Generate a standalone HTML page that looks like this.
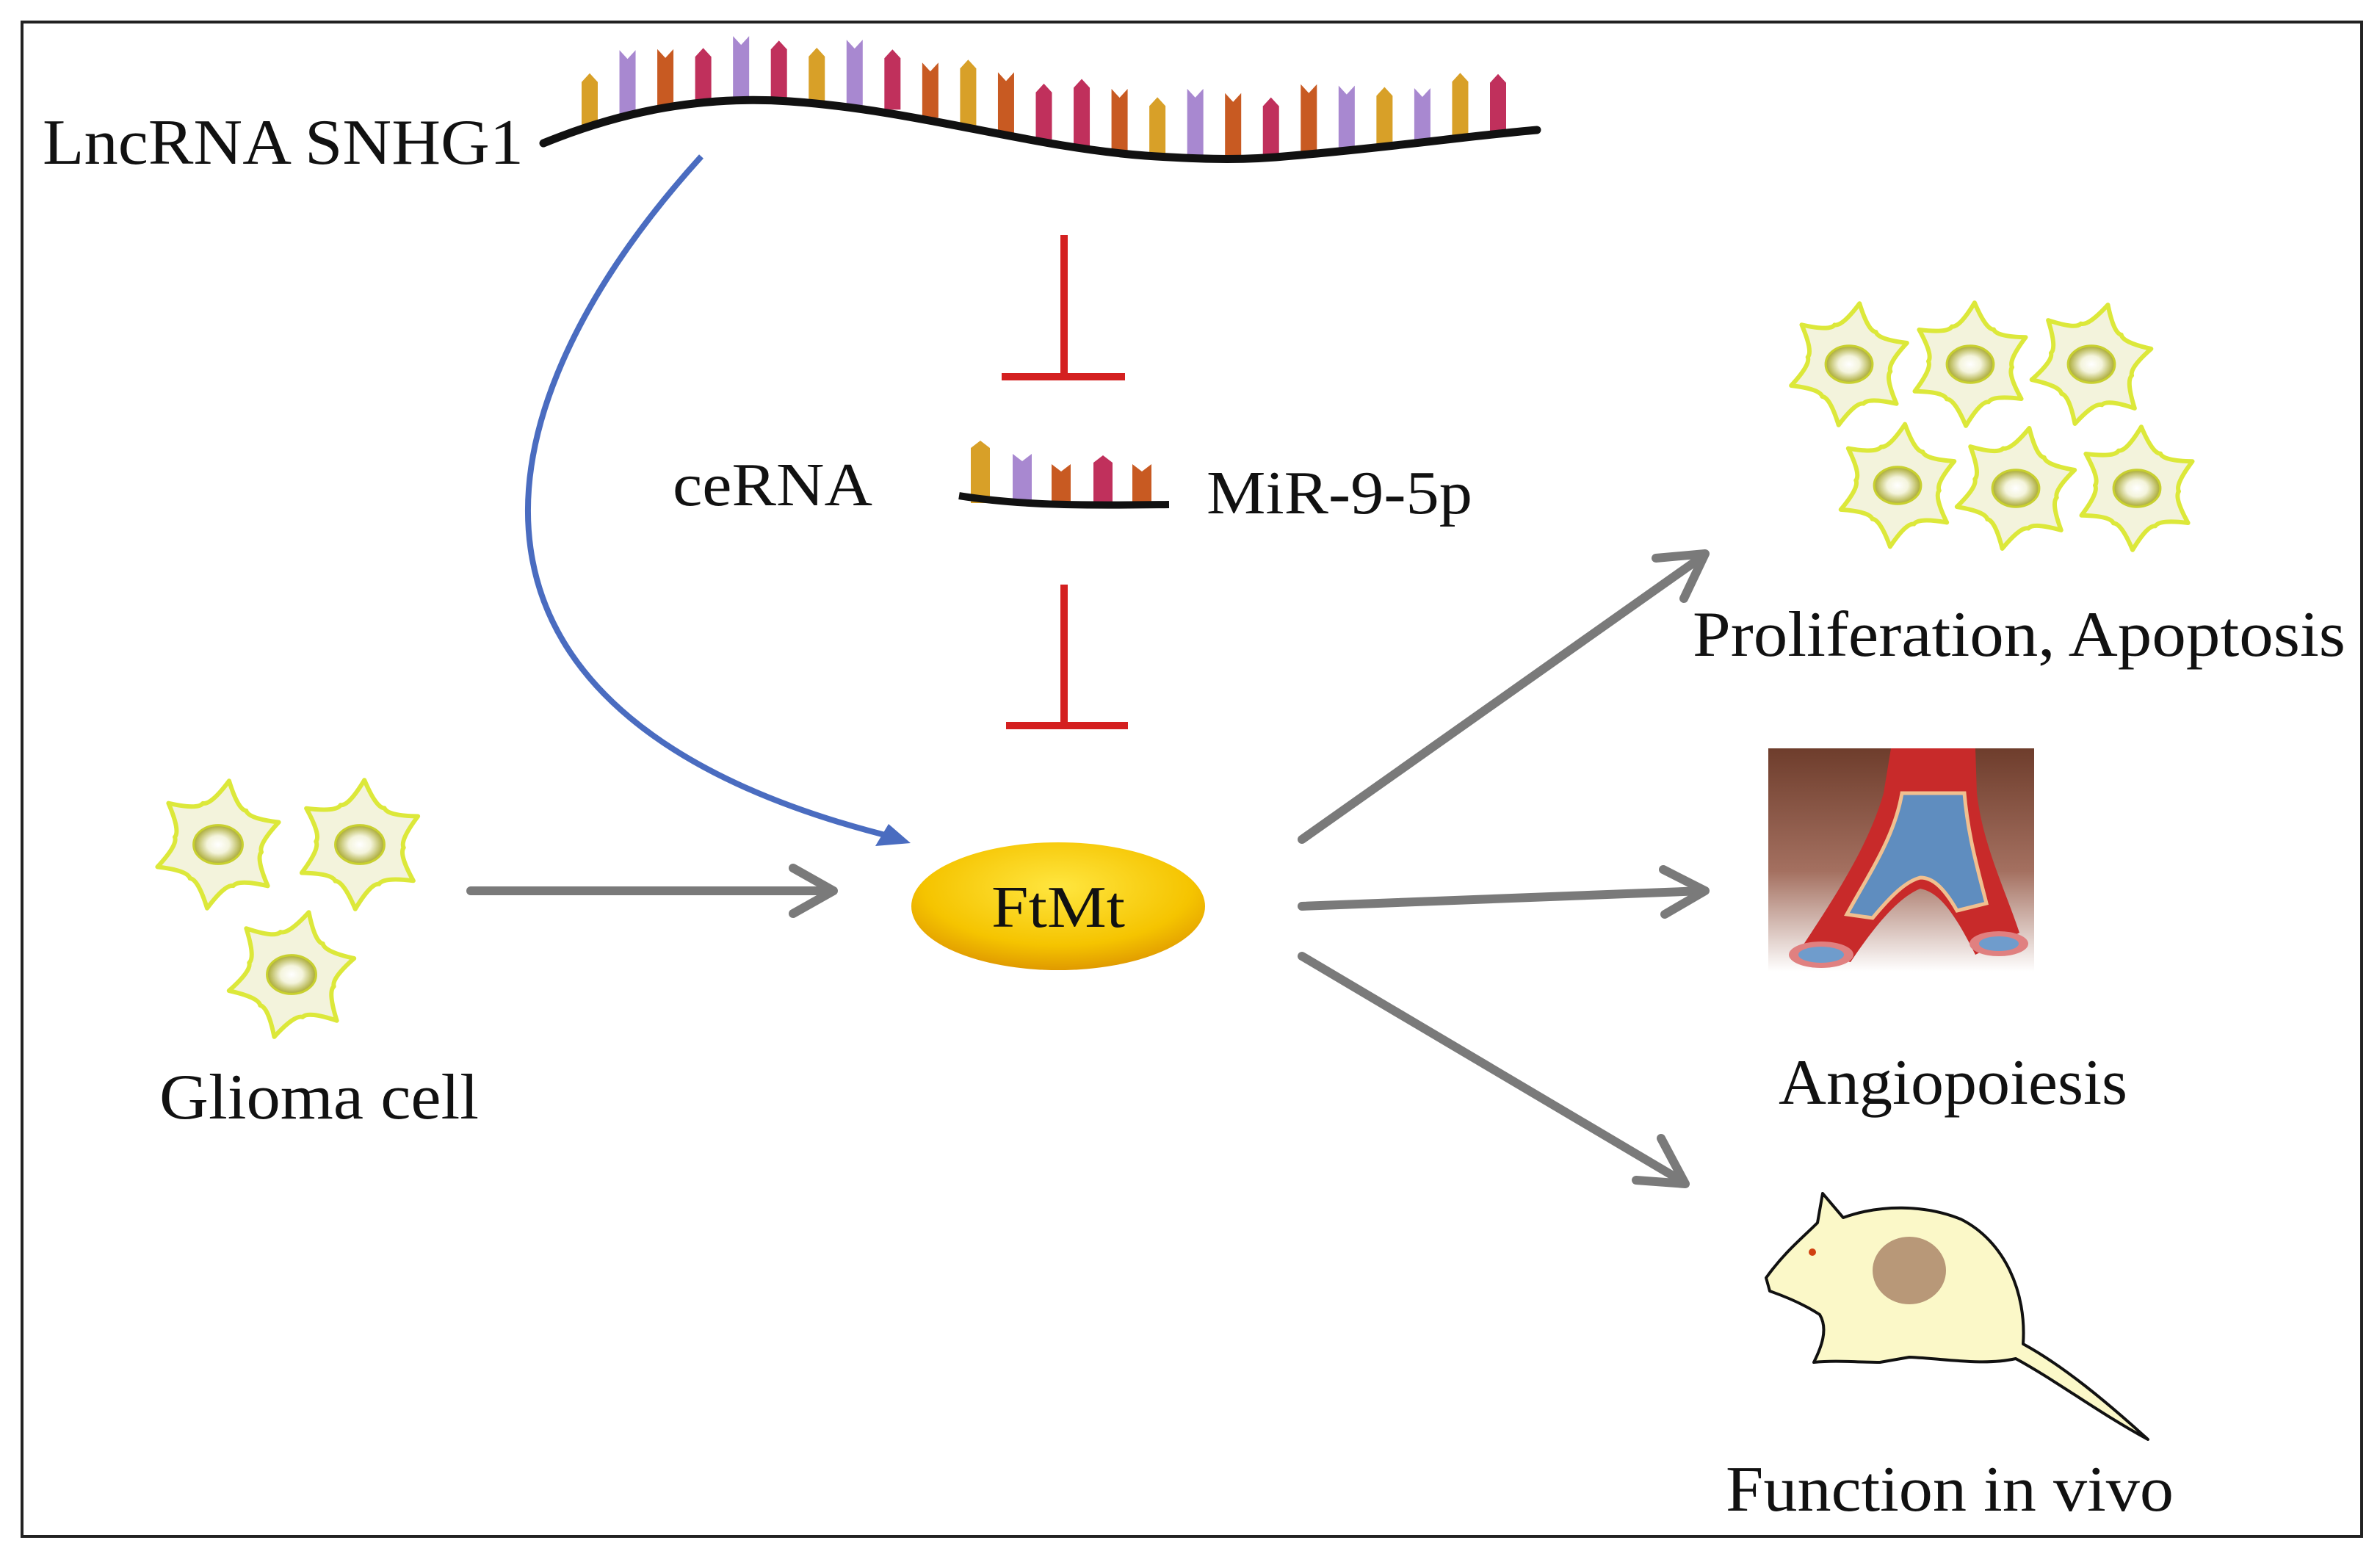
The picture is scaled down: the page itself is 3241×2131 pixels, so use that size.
<!DOCTYPE html>
<html><head><meta charset="utf-8">
<style>
html,body{margin:0;padding:0;background:#fff;}
svg{display:block;}
text{font-family:"Liberation Serif",serif;fill:#111;}
</style></head>
<body>
<svg id="s" width="3241" height="2131" viewBox="0 0 3241 2131" xmlns="http://www.w3.org/2000/svg">
<defs>
<radialGradient id="nuc" cx="50%" cy="50%" r="50%">
<stop offset="0" stop-color="#ffffff"/><stop offset="0.45" stop-color="#f4f4dc"/><stop offset="1" stop-color="#a8a830"/>
</radialGradient>
<radialGradient id="ft" cx="50%" cy="35%" r="65%">
<stop offset="0" stop-color="#ffe640"/><stop offset="0.7" stop-color="#f5c400"/><stop offset="1" stop-color="#e09a00"/>
</radialGradient>
<linearGradient id="bg" x1="0" y1="0" x2="0" y2="1">
<stop offset="0" stop-color="#6e3d2c"/><stop offset="0.55" stop-color="#a47060"/><stop offset="1" stop-color="#ffffff"/>
</linearGradient>
</defs>
<rect x="0" y="0" width="3241" height="2131" fill="#fff"/>
<rect x="30" y="30" width="3186" height="2062" fill="none" stroke="#222" stroke-width="4"/>

<g id="bars"></g>
<path d="M740,195 C850,150 960,130 1075,138 C1250,150 1400,200 1560,212 C1650,218 1700,218 1760,212 C1900,200 2000,185 2093,177" fill="none" stroke="#111" stroke-width="11" stroke-linecap="round"/>
<text x="58" y="223" font-size="88" textLength="655" lengthAdjust="spacingAndGlyphs">LncRNA SNHG1</text>

<!-- blue arrow -->
<path d="M955,213 C640,560 560,980 1225,1142" fill="none" stroke="#4a6cc0" stroke-width="8"/>
<polygon points="1240,1148 1192,1152 1210,1122" fill="#4a6cc0"/>

<!-- red inhibitors -->
<line x1="1449" y1="320" x2="1449" y2="513" stroke="#d42020" stroke-width="10"/>
<line x1="1364" y1="513" x2="1532" y2="513" stroke="#d42020" stroke-width="10"/>
<line x1="1449" y1="796" x2="1449" y2="988" stroke="#d42020" stroke-width="10"/>
<line x1="1370" y1="988" x2="1536" y2="988" stroke="#d42020" stroke-width="10"/>

<text x="916" y="688" font-size="84" textLength="272" lengthAdjust="spacingAndGlyphs">ceRNA</text>
<g id="mbars"></g>
<path d="M1306,675 C1400,690 1500,688 1592,687" fill="none" stroke="#111" stroke-width="10"/>
<text x="1643" y="699" font-size="84" textLength="362" lengthAdjust="spacingAndGlyphs">MiR-9-5p</text>

<ellipse cx="1441" cy="1234" rx="200" ry="87" fill="url(#ft)"/>
<text x="1441" y="1262" font-size="80" text-anchor="middle" textLength="182" lengthAdjust="spacingAndGlyphs">FtMt</text>

<g stroke="#7a7a7a" stroke-width="12" fill="none" stroke-linecap="round" stroke-linejoin="round">
<line x1="641" y1="1213" x2="1130" y2="1213"/>
<polyline points="1080,1182 1135,1213 1080,1244"/>
<line x1="1773" y1="1143" x2="2318" y2="758"/>
<polyline points="2255,760 2322,754 2293,815"/>
<line x1="1773" y1="1234" x2="2318" y2="1213"/>
<polyline points="2265,1184 2322,1213 2267,1245"/>
<line x1="1773" y1="1302" x2="2290" y2="1608"/>
<polyline points="2262,1550 2295,1612 2228,1607"/>
</g>

<g id="cells"></g>

<text x="217" y="1523" font-size="88" textLength="435" lengthAdjust="spacingAndGlyphs">Glioma cell</text>
<text x="2305" y="893" font-size="88" textLength="889" lengthAdjust="spacingAndGlyphs">Proliferation, Apoptosis</text>

<!-- vessel -->
<rect x="2408" y="1019" width="362" height="304" fill="url(#bg)"/>
<g>
<path d="M2575,1019 L2690,1019 L2692,1080 C2700,1150 2730,1210 2750,1270 L2690,1300 C2660,1240 2640,1215 2615,1210 C2590,1220 2560,1250 2520,1310 L2450,1295 C2500,1220 2545,1150 2565,1080 Z" fill="#c82a2a"/>
<path d="M2590,1080 L2675,1080 C2680,1140 2695,1190 2705,1230 L2665,1240 C2645,1205 2630,1195 2615,1195 C2595,1200 2575,1220 2550,1250 L2515,1245 C2545,1190 2580,1140 2590,1080 Z" fill="#5f8dbf" stroke="#f0c090" stroke-width="5"/>
<ellipse cx="2480" cy="1300" rx="44" ry="18" fill="#e08080"/>
<ellipse cx="2480" cy="1300" rx="31" ry="11" fill="#6f9ccc"/>
<ellipse cx="2722" cy="1285" rx="40" ry="17" fill="#e08080"/>
<ellipse cx="2722" cy="1285" rx="27" ry="10" fill="#6f9ccc"/>
</g>
<text x="2422" y="1503" font-size="88" textLength="475" lengthAdjust="spacingAndGlyphs">Angiopoiesis</text>

<!-- mouse -->
<path d="M2405,1740 C2430,1705 2455,1685 2475,1665 L2482,1625 L2510,1658 C2560,1640 2620,1640 2670,1660 C2730,1690 2760,1760 2755,1830 C2810,1860 2870,1910 2925,1960 C2860,1925 2800,1880 2745,1850 C2700,1860 2650,1850 2600,1848 L2560,1855 C2530,1855 2500,1852 2470,1855 C2480,1835 2490,1810 2478,1790 C2455,1775 2430,1765 2410,1758 Z" fill="#fbf8c8" stroke="#111" stroke-width="4" stroke-linejoin="round"/>
<ellipse cx="2600" cy="1730" rx="50" ry="46" fill="#b89878"/>
<circle cx="2468" cy="1705" r="5" fill="#d04010"/>
<text x="2350" y="2057" font-size="88" textLength="610" lengthAdjust="spacingAndGlyphs">Function in vivo</text>
</svg>
<script>
(function(){
var NS="http://www.w3.org/2000/svg";
function el(t,a,p){var e=document.createElementNS(NS,t);for(var k in a)e.setAttribute(k,a[k]);p.appendChild(e);return e;}
var cols=["#d8a028","#a888d0","#c85a22","#c0305c"];
function sy(x){
  var pts=[[740,195],[850,158],[960,140],[1075,138],[1200,148],[1350,180],[1500,205],[1620,215],[1760,212],[1900,198],[2000,187],[2093,177]];
  for(var i=0;i<pts.length-1;i++){if(x>=pts[i][0]&&x<=pts[i+1][0]){var t=(x-pts[i][0])/(pts[i+1][0]-pts[i][0]);return pts[i][1]+t*(pts[i+1][1]-pts[i][1]);}}
  return 190;
}
var seq=[0,1,2,3,1,3,0,1,3,2,0,2,3,3,2,0,1,2,3,2,1,0,1,0,3];
var g=document.getElementById("bars");
var n=seq.length;
for(var i=0;i<n;i++){
  var x=803+i*(2040-803)/(n-1);var base=sy(x)-2;var h=72+((i*37)%22);
  var c=cols[seq[i]];var w=22;var top=base-h;
  var pts;
  if(seq[i]==1||seq[i]==2) pts=[[x-w/2,base],[x-w/2,top],[x,top+12],[x+w/2,top],[x+w/2,base]];
  else pts=[[x-w/2,base],[x-w/2,top+12],[x,top],[x+w/2,top+12],[x+w/2,base]];
  el("polygon",{points:pts.map(function(p){return p.join(",")}).join(" "),fill:c},g);
}
var mg=document.getElementById("mbars");
var mx=[1335,1392,1445,1502,1555],ms=[0,1,2,3,2],mt=[600,618,632,620,632];
for(var i=0;i<5;i++){var x=mx[i],w=26,top=mt[i],base=685,c=cols[ms[i]];
  var pts=(ms[i]==1||ms[i]==2)?[[x-w/2,base],[x-w/2,top],[x,top+10],[x+w/2,top],[x+w/2,base]]:[[x-w/2,base],[x-w/2,top+10],[x,top],[x+w/2,top+10],[x+w/2,base]];
  el("polygon",{points:pts.map(function(p){return p.join(",")}).join(" "),fill:c},mg);}
var cg=document.getElementById("cells");
function cell(cx,cy,r,rot){
  var d="";var N=6;
  for(var k=0;k<N;k++){
    var a1=rot+k*2*Math.PI/N, a2=a1+Math.PI/N, a3=a1+2*Math.PI/N;
    var ox=cx+r*Math.cos(a1),oy=cy+r*Math.sin(a1);
    var ix=cx+r*0.68*Math.cos(a2),iy=cy+r*0.68*Math.sin(a2);
    var nx=cx+r*Math.cos(a3),ny=cy+r*Math.sin(a3);
    if(k==0)d+="M"+ox+","+oy;
    d+=" Q"+(cx+r*0.62*Math.cos(a1+0.35))+","+(cy+r*0.62*Math.sin(a1+0.35))+" "+ix+","+iy;
    d+=" Q"+(cx+r*0.62*Math.cos(a3-0.35))+","+(cy+r*0.62*Math.sin(a3-0.35))+" "+nx+","+ny;
  }
  d+="Z";
  el("path",{d:d,fill:"#f3f3dc",stroke:"#dce83a","stroke-width":6,"stroke-linejoin":"round"},cg);
  el("ellipse",{cx:cx,cy:cy,rx:r*0.38,ry:r*0.3,fill:"url(#nuc)",stroke:"#c8d030","stroke-width":3},cg);
}
var C=[[297,1150,88,-1.4],[490,1150,88,-1.5],[397,1327,88,-1.3],
[2518,496,84,-1.4],[2683,496,84,-1.5],[2848,496,84,-1.3],[2584,661,84,-1.45],[2745,665,84,-1.35],[2910,665,84,-1.5]];
C.forEach(function(c){cell(c[0],c[1],c[2],c[3]);});
})();
</script>
</body></html>
